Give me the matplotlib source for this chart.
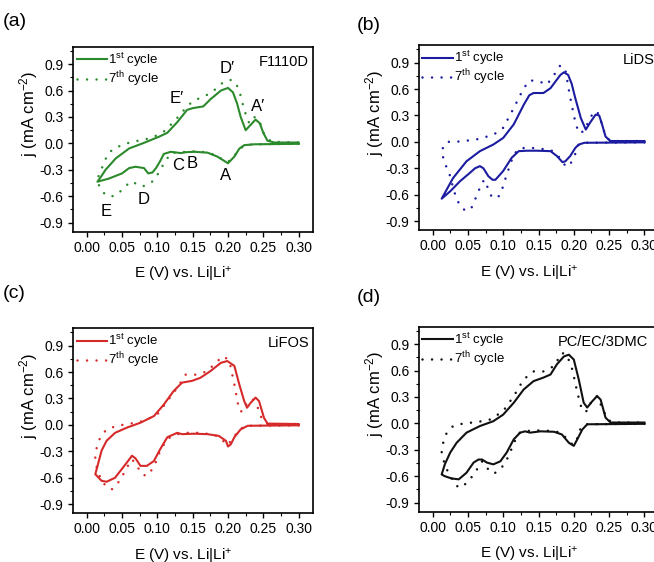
import matplotlib
matplotlib.use("Agg")
import matplotlib.pyplot as plt
from matplotlib.ticker import MultipleLocator

plt.rcParams['font.family'] = ['Liberation Sans', 'DejaVu Sans']
plt.rcParams['mathtext.fontset'] = 'custom'
plt.rcParams['mathtext.rm'] = 'Liberation Sans'
plt.rcParams['mathtext.it'] = 'Liberation Sans:italic'
plt.rcParams['mathtext.bf'] = 'Liberation Sans:bold'

# ---------------- data (E in V, j in mA cm^-2) ----------------
# panel (a) F1110D
e_a1 = [0.300, 0.260, 0.237, 0.223, 0.216, 0.209, 0.200, 0.197, 0.185, 0.171, 0.152, 0.140, 0.133, 0.119, 0.109,
        0.104, 0.098, 0.093, 0.087, 0.081, 0.069, 0.060, 0.050, 0.031, 0.015,
        0.020, 0.0265, 0.041, 0.060, 0.079, 0.102, 0.114, 0.128, 0.142, 0.150, 0.165, 0.175, 0.190, 0.200, 0.207,
        0.213, 0.218, 0.225, 0.232, 0.239, 0.245, 0.250, 0.256, 0.266, 0.300]
j_a1 = [-0.005, -0.008, -0.010, -0.020, -0.060, -0.150, -0.225, -0.210, -0.150, -0.105, -0.095, -0.100, -0.110, -0.095, -0.120,
        -0.200, -0.280, -0.330, -0.340, -0.280, -0.265, -0.280, -0.340, -0.400, -0.435,
        -0.380, -0.300, -0.170, -0.057, 0.000, 0.075, 0.120, 0.240, 0.380, 0.400, 0.420, 0.500, 0.600, 0.630, 0.580,
        0.450, 0.300, 0.150, 0.210, 0.270, 0.230, 0.120, 0.030, 0.010, 0.010]
e_a7 = [0.300, 0.262, 0.235, 0.222, 0.215, 0.207, 0.200, 0.193, 0.185, 0.170, 0.150, 0.133, 0.119, 0.109, 0.102,
        0.095, 0.086, 0.078, 0.070, 0.064, 0.057, 0.050, 0.038, 0.027, 0.019, 0.015,
        0.017, 0.024, 0.029, 0.038, 0.050, 0.064, 0.081, 0.095, 0.110, 0.125, 0.142, 0.152, 0.166, 0.180, 0.194,
        0.204, 0.210, 0.216, 0.223, 0.230, 0.237, 0.244, 0.251, 0.261, 0.300]
j_a7 = [-0.005, -0.008, -0.010, -0.030, -0.080, -0.160, -0.210, -0.190, -0.140, -0.100, -0.090, -0.100, -0.110, -0.230, -0.330,
        -0.420, -0.470, -0.490, -0.460, -0.430, -0.470, -0.530, -0.600, -0.590, -0.510, -0.430,
        -0.360, -0.230, -0.130, -0.057, -0.020, 0.020, 0.040, 0.075, 0.140, 0.260, 0.420, 0.490, 0.530, 0.600, 0.700,
        0.720, 0.700, 0.600, 0.380, 0.230, 0.300, 0.265, 0.110, 0.020, 0.010]

# panel (b) LiDS
e_b1 = [0.300, 0.250, 0.215, 0.207, 0.202, 0.195, 0.188, 0.184, 0.176, 0.167, 0.148, 0.134, 0.122, 0.112, 0.100,
        0.089, 0.085, 0.079, 0.072, 0.067, 0.060, 0.053, 0.039, 0.025, 0.0128,
        0.029, 0.048, 0.067, 0.086, 0.100, 0.115, 0.129, 0.137, 0.143, 0.157, 0.167, 0.181, 0.186, 0.192, 0.197,
        0.202, 0.210, 0.217, 0.224, 0.231, 0.236, 0.240, 0.245, 0.252, 0.300]
j_b1 = [-0.005, -0.008, -0.010, -0.030, -0.070, -0.160, -0.220, -0.230, -0.160, -0.105, -0.100, -0.100, -0.105, -0.180, -0.330,
        -0.430, -0.430, -0.390, -0.300, -0.275, -0.300, -0.350, -0.445, -0.560, -0.645,
        -0.410, -0.220, -0.105, -0.030, 0.045, 0.200, 0.420, 0.530, 0.555, 0.555, 0.610, 0.760, 0.790, 0.760, 0.660,
        0.500, 0.270, 0.140, 0.230, 0.310, 0.300, 0.200, 0.060, 0.010, 0.010]
e_b7 = [0.300, 0.250, 0.212, 0.207, 0.200, 0.193, 0.188, 0.176, 0.167, 0.143, 0.124, 0.115, 0.105, 0.096, 0.091,
        0.084, 0.078, 0.074, 0.070, 0.063, 0.055, 0.048, 0.041, 0.034, 0.029, 0.025, 0.020, 0.015, 0.013,
        0.020, 0.040, 0.063, 0.086, 0.100, 0.115, 0.129, 0.138, 0.153, 0.162, 0.172, 0.181, 0.188, 0.195, 0.202,
        0.207, 0.214, 0.226, 0.233, 0.240, 0.245, 0.252, 0.300]
j_b7 = [-0.005, -0.008, -0.010, -0.030, -0.180, -0.280, -0.270, -0.140, -0.090, -0.070, -0.070, -0.140, -0.370, -0.600, -0.635,
        -0.630, -0.520, -0.430, -0.460, -0.600, -0.750, -0.785, -0.750, -0.650, -0.520, -0.390, -0.295, -0.180, -0.090,
        0.000, 0.005, 0.030, 0.080, 0.160, 0.385, 0.610, 0.700, 0.680, 0.650, 0.760, 0.870, 0.820, 0.500, 0.230,
        0.100, 0.120, 0.310, 0.350, 0.200, 0.060, 0.010, 0.010]

# panel (c) LiFOS
e_c1 = [0.300, 0.250, 0.228, 0.218, 0.209, 0.204, 0.200, 0.197, 0.187, 0.171, 0.152, 0.135, 0.128, 0.114, 0.104,
        0.095, 0.085, 0.076, 0.069, 0.064, 0.055, 0.040, 0.028, 0.021, 0.012,
        0.017, 0.021, 0.028, 0.040, 0.057, 0.076, 0.095, 0.109, 0.123, 0.135, 0.149, 0.161, 0.175, 0.190, 0.199,
        0.209, 0.216, 0.223, 0.227, 0.232, 0.239, 0.244, 0.251, 0.256, 0.300]
j_c1 = [-0.005, -0.008, -0.010, -0.050, -0.140, -0.220, -0.245, -0.180, -0.125, -0.105, -0.100, -0.105, -0.090, -0.140, -0.275,
        -0.410, -0.465, -0.465, -0.380, -0.350, -0.445, -0.600, -0.645, -0.635, -0.560,
        -0.410, -0.290, -0.180, -0.090, -0.030, 0.025, 0.100, 0.230, 0.385, 0.480, 0.500, 0.535, 0.610, 0.705, 0.725,
        0.670, 0.460, 0.270, 0.195, 0.250, 0.310, 0.270, 0.080, 0.015, 0.010]
e_c7 = [0.300, 0.250, 0.225, 0.215, 0.205, 0.198, 0.190, 0.180, 0.160, 0.140, 0.125, 0.114, 0.104, 0.095, 0.085,
        0.078, 0.071, 0.064, 0.057, 0.047, 0.036, 0.028, 0.019, 0.014,
        0.012, 0.014, 0.019, 0.028, 0.043, 0.062, 0.081, 0.100, 0.114, 0.128, 0.140, 0.156, 0.171, 0.185, 0.194,
        0.202, 0.209, 0.216, 0.221, 0.228, 0.235, 0.242, 0.249, 0.257, 0.300]
j_c7 = [-0.005, -0.008, -0.010, -0.060, -0.180, -0.230, -0.150, -0.110, -0.090, -0.090, -0.110, -0.160, -0.290, -0.480, -0.580,
        -0.560, -0.465, -0.390, -0.480, -0.630, -0.730, -0.710, -0.600, -0.480,
        -0.370, -0.260, -0.140, -0.050, -0.010, 0.015, 0.045, 0.120, 0.270, 0.420, 0.570, 0.570, 0.610, 0.725, 0.780,
        0.725, 0.460, 0.160, 0.150, 0.270, 0.290, 0.200, 0.045, 0.010, 0.010]

# panel (d) PC/EC/3DMC
e_d1 = [0.300, 0.250, 0.219, 0.212, 0.205, 0.200, 0.193, 0.183, 0.172, 0.153, 0.138, 0.131, 0.124, 0.115, 0.105,
        0.096, 0.086, 0.077, 0.070, 0.065, 0.058, 0.048, 0.037, 0.027, 0.0175, 0.0128,
        0.0175, 0.025, 0.034, 0.048, 0.067, 0.086, 0.100, 0.115, 0.129, 0.143, 0.157, 0.167, 0.176, 0.186, 0.193,
        0.200, 0.207, 0.214, 0.219, 0.226, 0.233, 0.238, 0.245, 0.252, 0.300]
j_d1 = [-0.005, -0.008, -0.010, -0.070, -0.180, -0.255, -0.220, -0.125, -0.095, -0.090, -0.105, -0.090, -0.105, -0.180, -0.330,
        -0.430, -0.465, -0.445, -0.410, -0.410, -0.445, -0.560, -0.635, -0.625, -0.600, -0.580,
        -0.460, -0.330, -0.220, -0.105, -0.030, 0.025, 0.100, 0.235, 0.385, 0.480, 0.520, 0.555, 0.670, 0.760, 0.780,
        0.725, 0.500, 0.235, 0.180, 0.250, 0.310, 0.270, 0.065, 0.010, 0.010]
e_d7 = [0.300, 0.250, 0.215, 0.208, 0.203, 0.198, 0.190, 0.180, 0.160, 0.140, 0.124, 0.115, 0.108, 0.098, 0.089,
        0.082, 0.074, 0.070, 0.063, 0.053, 0.041, 0.034, 0.025, 0.0175, 0.0128,
        0.015, 0.020, 0.029, 0.044, 0.063, 0.082, 0.100, 0.115, 0.129, 0.143, 0.157, 0.172, 0.183, 0.190, 0.198,
        0.205, 0.212, 0.219, 0.226, 0.233, 0.240, 0.248, 0.255, 0.300]
j_d7 = [-0.005, -0.008, -0.010, -0.080, -0.220, -0.240, -0.170, -0.100, -0.080, -0.080, -0.100, -0.220, -0.370, -0.500, -0.560,
        -0.560, -0.465, -0.430, -0.520, -0.635, -0.730, -0.710, -0.600, -0.480, -0.330,
        -0.220, -0.105, -0.030, 0.000, 0.015, 0.045, 0.140, 0.310, 0.500, 0.590, 0.590, 0.650, 0.800, 0.780, 0.610,
        0.350, 0.140, 0.140, 0.270, 0.310, 0.180, 0.045, 0.010, 0.010]

panel_tags = ["(a)", "(b)", "(c)", "(d)"]
names = ["F1110D", "LiDS", "LiFOS", "PC/EC/3DMC"]
colors = ["#2b8a2b", "#1c1ca0", "#d62a2a", "#111111"]
legend_labels = [r"1$^{\mathrm{st}}$ cycle", r"7$^{\mathrm{th}}$ cycle"]
x_ticks = [0.0, 0.05, 0.10, 0.15, 0.20, 0.25, 0.30]
x_ticklabels = ["0.00", "0.05", "0.10", "0.15", "0.20", "0.25", "0.30"]
y_ticks = [-0.9, -0.6, -0.3, 0.0, 0.3, 0.6, 0.9]
y_ticklabels = ["-0.9", "-0.6", "-0.3", "0.0", "0.3", "0.6", "0.9"]

peak_labels = ["E\u2032", "D\u2032", "A\u2032", "C", "B", "A", "D", "E"]
peak_e = [0.128, 0.199, 0.242, 0.130, 0.149, 0.197, 0.0805, 0.0275]
peak_j = [0.51, 0.85, 0.415, -0.246, -0.23, -0.36, -0.64, -0.775]

series = [(e_a1, j_a1, e_a7, j_a7), (e_b1, j_b1, e_b7, j_b7),
          (e_c1, j_c1, e_c7, j_c7), (e_d1, j_d1, e_d7, j_d7)]

W, H = 654, 562
fig = plt.figure(figsize=(W / 100, H / 100), dpi=100)

# axes rectangles in pixels (left, top)
rects = [(72.7, 46.5), (418.5, 45.0), (72.7, 328.0), (418.5, 326.5)]
ax_w, ax_h = 240.0, 185.0
name_x = [0.985, 0.85, 0.985, 0.58]
name_ha = ["right", "left", "right", "left"]
tag_pos = [(3, 22), (357, 25), (3, 294), (357, 298)]

for i in range(4):
    L, T = rects[i]
    ax = fig.add_axes([L / W, 1 - (T + ax_h) / H, ax_w / W, ax_h / H])
    e1, j1, e7, j7 = series[i]
    c = colors[i]
    ax.plot(e1, j1, color=c, lw=1.5, solid_joinstyle='round', label=legend_labels[0])
    ax.plot(e7, j7, color=c, lw=1.8, linestyle=(0, (0.01, 3.8)), dash_capstyle='round',
            label=legend_labels[1])
    ax.set_xlim(-0.02, 0.32)
    ax.set_ylim(-1.0, 1.1)
    ax.set_xticks(x_ticks)
    ax.set_xticklabels(x_ticklabels)
    ax.set_yticks(y_ticks)
    ax.set_yticklabels(y_ticklabels)
    ax.xaxis.set_minor_locator(MultipleLocator(0.025))
    ax.yaxis.set_minor_locator(MultipleLocator(0.15))
    ax.tick_params(which='major', direction='out', length=3.6, width=1.0, labelsize=10, pad=3)
    ax.tick_params(which='minor', direction='out', length=2.0, width=0.8)
    for s in ax.spines.values():
        s.set_linewidth(1.2)
    ax.set_xlabel(r"E (V) vs. Li|Li$^{+}$", fontsize=11)
    ax.xaxis.label.set_va('center')
    ax.xaxis.set_label_coords(0.46, -0.235)
    ax.set_ylabel(r"j (mA cm$^{\mathrm{-2}}$)", fontsize=12)
    ax.yaxis.label.set_va('center')
    ax.yaxis.set_label_coords(-0.185, 0.635)
    ax.legend(loc='upper left', frameon=False, fontsize=9.5, handlelength=2.3,
              handletextpad=0.1, borderaxespad=0.1, labelspacing=0.05, borderpad=0.2)
    ax.text(name_x[i], 0.955, names[i], transform=ax.transAxes, ha=name_ha[i], va='top', fontsize=10.5)
    fig.text(tag_pos[i][0] / W, 1 - tag_pos[i][1] / H, panel_tags[i], ha='left', va='center', fontsize=14)
    if i == 0:
        for lab, pe, pj in zip(peak_labels, peak_e, peak_j):
            ax.text(pe, pj, lab, ha='center', va='center', fontsize=12)

fig.savefig("out.png", dpi=100)
